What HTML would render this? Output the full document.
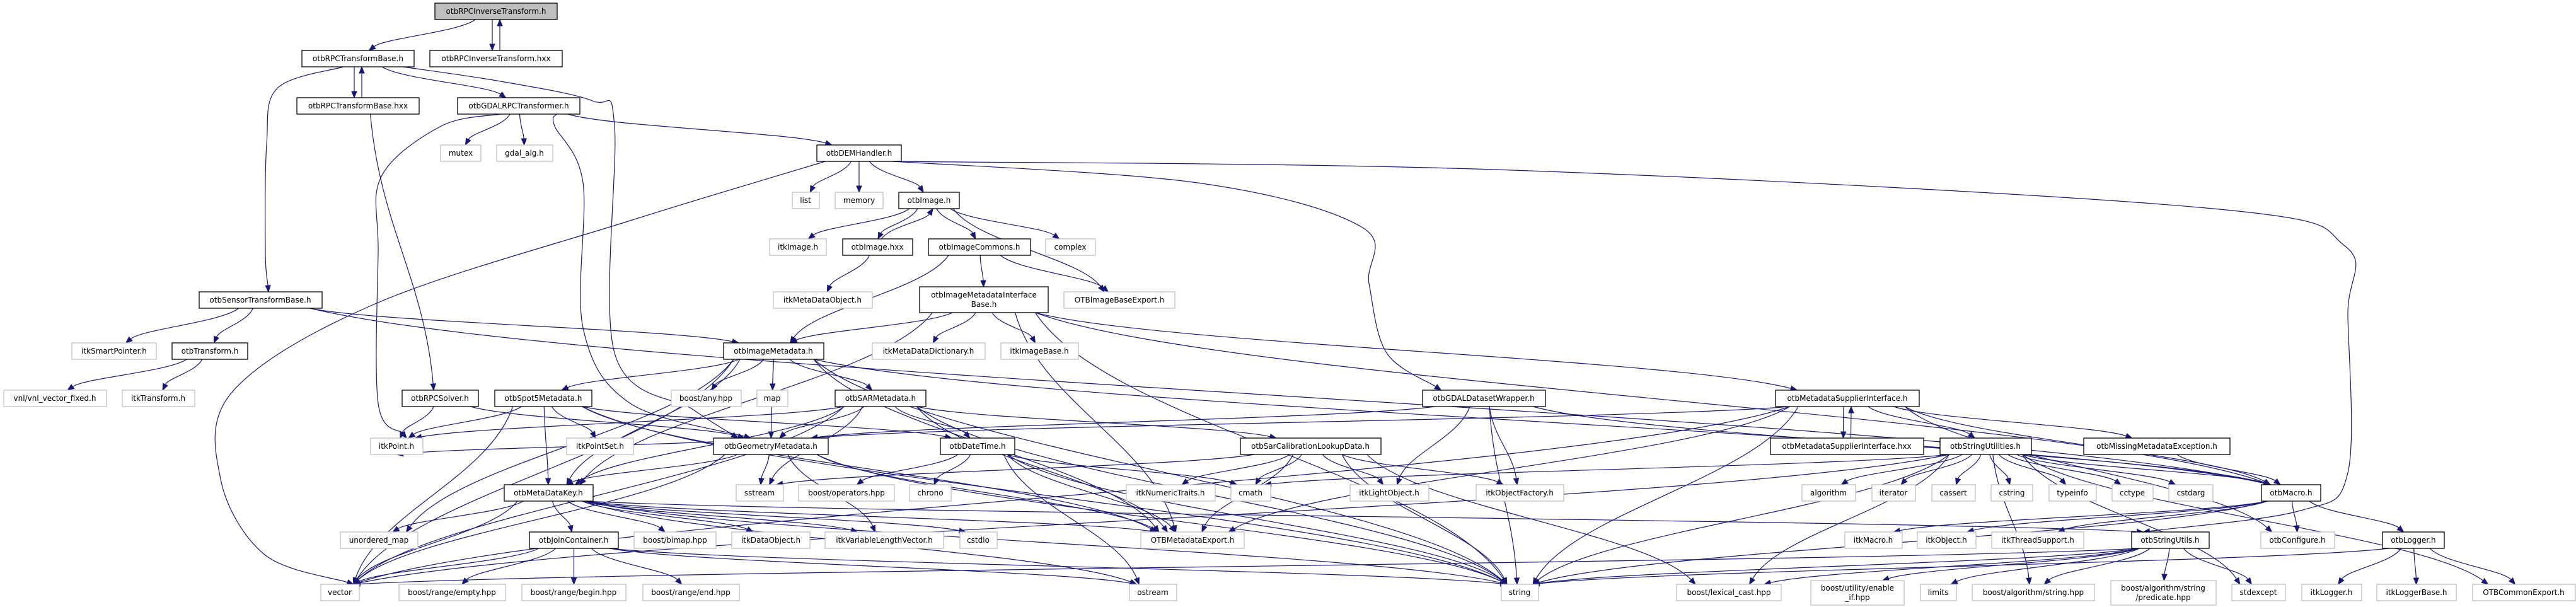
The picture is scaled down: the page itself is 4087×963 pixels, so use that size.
<!DOCTYPE html>
<html><head><meta charset="utf-8">
<style>
html,body{margin:0;padding:0;background:#fff;}
svg{display:block;}
text{font-family:"DejaVu Sans","Liberation Sans",sans-serif;font-size:12px;fill:#000;text-anchor:middle;}
.b rect{fill:#fff;stroke:#000;stroke-width:1.3;}
.g rect{fill:#fff;stroke:#bfbfbf;stroke-width:1.3;}
.r rect{fill:#bfbfbf;stroke:#000;stroke-width:1.3;}
#edges path{fill:none;stroke:#191970;stroke-width:1.2;}
#edges polygon{fill:#191970;stroke:#191970;}
</style></head>
<body>
<svg id="svgroot" width="4087" height="963" viewBox="0 0 4087 963" xmlns="http://www.w3.org/2000/svg">
<g id="edges"></g>
<g id="nodes">
<g id="A" class="r"><rect x="690" y="5" width="194" height="26"/><text x="787" y="22">otbRPCInverseTransform.h</text></g>
<g id="B" class="b"><rect x="479" y="80" width="178" height="26"/><text x="568" y="97">otbRPCTransformBase.h</text></g>
<g id="C" class="b"><rect x="682" y="80" width="210" height="26"/><text x="787" y="97">otbRPCInverseTransform.hxx</text></g>
<g id="D" class="b"><rect x="471" y="155" width="194" height="26"/><text x="568" y="172">otbRPCTransformBase.hxx</text></g>
<g id="E" class="b"><rect x="726" y="155" width="194" height="26"/><text x="823" y="172">otbGDALRPCTransformer.h</text></g>
<g id="F" class="g"><rect x="699" y="230" width="64" height="26"/><text x="731" y="247">mutex</text></g>
<g id="G" class="g"><rect x="788" y="230" width="89" height="26"/><text x="832" y="247">gdal_alg.h</text></g>
<g id="H" class="b"><rect x="1296" y="230" width="134" height="26"/><text x="1363" y="247">otbDEMHandler.h</text></g>
<g id="I" class="g"><rect x="1257" y="305" width="43" height="26"/><text x="1278" y="322">list</text></g>
<g id="J" class="g"><rect x="1325" y="305" width="76" height="26"/><text x="1363" y="322">memory</text></g>
<g id="K" class="b"><rect x="1426" y="305" width="96" height="26"/><text x="1474" y="322">otbImage.h</text></g>
<g id="L" class="g"><rect x="1221" y="379" width="90" height="26"/><text x="1266" y="396">itkImage.h</text></g>
<g id="M" class="b"><rect x="1337" y="379" width="111" height="26"/><text x="1392" y="396">otbImage.hxx</text></g>
<g id="N" class="b"><rect x="1473" y="379" width="162" height="26"/><text x="1554" y="396">otbImageCommons.h</text></g>
<g id="O" class="g"><rect x="1659" y="379" width="79" height="26"/><text x="1698" y="396">complex</text></g>
<g id="P" class="g"><rect x="1227" y="463" width="157" height="26"/><text x="1305" y="480">itkMetaDataObject.h</text></g>
<g id="Q" class="b"><rect x="1459" y="455" width="204" height="41"/><text x="1561" y="472">otbImageMetadataInterface</text><text x="1561" y="487">Base.h</text></g>
<g id="R" class="g"><rect x="1688" y="463" width="176" height="26"/><text x="1776" y="480">OTBImageBaseExport.h</text></g>
<g id="S" class="b"><rect x="316" y="463" width="195" height="26"/><text x="413" y="480">otbSensorTransformBase.h</text></g>
<g id="T" class="g"><rect x="114" y="544" width="134" height="26"/><text x="181" y="561">itkSmartPointer.h</text></g>
<g id="U" class="b"><rect x="273" y="544" width="120" height="26"/><text x="333" y="561">otbTransform.h</text></g>
<g id="V" class="b"><rect x="1148" y="544" width="159" height="26"/><text x="1227" y="561">otbImageMetadata.h</text></g>
<g id="W" class="g"><rect x="1384" y="544" width="179" height="26"/><text x="1473" y="561">itkMetaDataDictionary.h</text></g>
<g id="X" class="g"><rect x="1588" y="544" width="123" height="26"/><text x="1649" y="561">itkImageBase.h</text></g>
<g id="Y" class="g"><rect x="6" y="619" width="163" height="26"/><text x="87" y="636">vnl/vnl_vector_fixed.h</text></g>
<g id="Z" class="g"><rect x="194" y="619" width="115" height="26"/><text x="251" y="636">itkTransform.h</text></g>
<g id="a" class="b"><rect x="638" y="619" width="121" height="26"/><text x="698" y="636">otbRPCSolver.h</text></g>
<g id="b" class="b"><rect x="785" y="619" width="154" height="26"/><text x="862" y="636">otbSpot5Metadata.h</text></g>
<g id="c" class="g"><rect x="1065" y="619" width="111" height="26"/><text x="1120" y="636">boost/any.hpp</text></g>
<g id="d" class="g"><rect x="1201" y="619" width="49" height="26"/><text x="1225" y="636">map</text></g>
<g id="e" class="b"><rect x="1325" y="619" width="144" height="26"/><text x="1397" y="636">otbSARMetadata.h</text></g>
<g id="f" class="b"><rect x="2257" y="619" width="195" height="26"/><text x="2354" y="636">otbGDALDatasetWrapper.h</text></g>
<g id="g" class="b"><rect x="2817" y="619" width="228" height="26"/><text x="2931" y="636">otbMetadataSupplierInterface.h</text></g>
<g id="h" class="g"><rect x="588" y="695" width="83" height="26"/><text x="629" y="712">itkPoint.h</text></g>
<g id="i" class="g"><rect x="899" y="695" width="106" height="26"/><text x="952" y="712">itkPointSet.h</text></g>
<g id="j" class="b"><rect x="1132" y="695" width="182" height="26"/><text x="1223" y="712">otbGeometryMetadata.h</text></g>
<g id="k" class="b"><rect x="1492" y="695" width="118" height="26"/><text x="1551" y="712">otbDateTime.h</text></g>
<g id="l" class="b"><rect x="1968" y="695" width="223" height="26"/><text x="2079" y="712">otbSarCalibrationLookupData.h</text></g>
<g id="m" class="b"><rect x="2809" y="695" width="243" height="26"/><text x="2930" y="712">otbMetadataSupplierInterface.hxx</text></g>
<g id="n" class="b"><rect x="3078" y="695" width="145" height="26"/><text x="3150" y="712">otbStringUtilities.h</text></g>
<g id="o" class="b"><rect x="3306" y="695" width="232" height="26"/><text x="3422" y="712">otbMissingMetadataException.h</text></g>
<g id="p" class="b"><rect x="800" y="769" width="141" height="26"/><text x="870" y="786">otbMetaDataKey.h</text></g>
<g id="q" class="g"><rect x="1168" y="769" width="75" height="26"/><text x="1205" y="786">sstream</text></g>
<g id="r" class="g"><rect x="1267" y="769" width="152" height="26"/><text x="1343" y="786">boost/operators.hpp</text></g>
<g id="s2" class="g"><rect x="1443" y="769" width="66" height="26"/><text x="1476" y="786">chrono</text></g>
<g id="t" class="g"><rect x="1787" y="769" width="141" height="26"/><text x="1857" y="786">itkNumericTraits.h</text></g>
<g id="u" class="g"><rect x="1953" y="769" width="63" height="26"/><text x="1984" y="786">cmath</text></g>
<g id="v" class="g"><rect x="2142" y="769" width="125" height="26"/><text x="2204" y="786">itkLightObject.h</text></g>
<g id="w" class="g"><rect x="2342" y="769" width="139" height="26"/><text x="2411" y="786">itkObjectFactory.h</text></g>
<g id="x" class="g"><rect x="2859" y="769" width="85" height="26"/><text x="2901" y="786">algorithm</text></g>
<g id="y" class="g"><rect x="2970" y="769" width="69" height="26"/><text x="3004" y="786">iterator</text></g>
<g id="z" class="g"><rect x="3065" y="769" width="69" height="26"/><text x="3099" y="786">cassert</text></g>
<g id="A2" class="g"><rect x="3159" y="769" width="66" height="26"/><text x="3192" y="786">cstring</text></g>
<g id="B2" class="g"><rect x="3251" y="769" width="75" height="26"/><text x="3288" y="786">typeinfo</text></g>
<g id="C2" class="g"><rect x="3351" y="769" width="65" height="26"/><text x="3383" y="786">cctype</text></g>
<g id="D2" class="g"><rect x="3441" y="769" width="70" height="26"/><text x="3476" y="786">cstdarg</text></g>
<g id="E2" class="b"><rect x="3588" y="769" width="94" height="26"/><text x="3635" y="786">otbMacro.h</text></g>
<g id="F2" class="g"><rect x="540" y="844" width="123" height="26"/><text x="601" y="861">unordered_map</text></g>
<g id="G2" class="b"><rect x="840" y="844" width="141" height="26"/><text x="910" y="861">otbJoinContainer.h</text></g>
<g id="H2" class="g"><rect x="1006" y="844" width="130" height="26"/><text x="1071" y="861">boost/bimap.hpp</text></g>
<g id="I2" class="g"><rect x="1161" y="844" width="124" height="26"/><text x="1223" y="861">itkDataObject.h</text></g>
<g id="J2" class="g"><rect x="1309" y="844" width="188" height="26"/><text x="1403" y="861">itkVariableLengthVector.h</text></g>
<g id="K2" class="g"><rect x="1523" y="844" width="59" height="26"/><text x="1552" y="861">cstdio</text></g>
<g id="L2" class="g"><rect x="1810" y="844" width="164" height="26"/><text x="1892" y="861">OTBMetadataExport.h</text></g>
<g id="M2" class="g"><rect x="2927" y="844" width="91" height="26"/><text x="2972" y="861">itkMacro.h</text></g>
<g id="N2" class="g"><rect x="3042" y="844" width="93" height="26"/><text x="3088" y="861">itkObject.h</text></g>
<g id="O2" class="g"><rect x="3160" y="844" width="146" height="26"/><text x="3233" y="861">itkThreadSupport.h</text></g>
<g id="P2" class="b"><rect x="3382" y="844" width="123" height="26"/><text x="3443" y="861">otbStringUtils.h</text></g>
<g id="Q2" class="g"><rect x="3587" y="844" width="117" height="26"/><text x="3645" y="861">otbConfigure.h</text></g>
<g id="R2" class="b"><rect x="3780" y="844" width="98" height="26"/><text x="3829" y="861">otbLogger.h</text></g>
<g id="S2" class="g"><rect x="509" y="927" width="61" height="26"/><text x="539" y="944">vector</text></g>
<g id="T2" class="g"><rect x="633" y="927" width="169" height="26"/><text x="717" y="944">boost/range/empty.hpp</text></g>
<g id="U2" class="g"><rect x="828" y="927" width="165" height="26"/><text x="910" y="944">boost/range/begin.hpp</text></g>
<g id="V2" class="g"><rect x="1020" y="927" width="153" height="26"/><text x="1096" y="944">boost/range/end.hpp</text></g>
<g id="W2" class="g"><rect x="1792" y="927" width="75" height="26"/><text x="1829" y="944">ostream</text></g>
<g id="X2" class="g"><rect x="2382" y="927" width="59" height="26"/><text x="2411" y="944">string</text></g>
<g id="Y2" class="g"><rect x="2660" y="927" width="166" height="26"/><text x="2743" y="944">boost/lexical_cast.hpp</text></g>
<g id="Z2" class="g"><rect x="2873" y="921" width="148" height="39"/><text x="2947" y="937">boost/utility/enable</text><text x="2947" y="952">_if.hpp</text></g>
<g id="a3" class="g"><rect x="3047" y="927" width="57" height="26"/><text x="3075" y="944">limits</text></g>
<g id="b3" class="g"><rect x="3129" y="927" width="194" height="26"/><text x="3226" y="944">boost/algorithm/string.hpp</text></g>
<g id="c3" class="g"><rect x="3349" y="921" width="167" height="39"/><text x="3432" y="937">boost/algorithm/string</text><text x="3432" y="952">/predicate.hpp</text></g>
<g id="d3" class="g"><rect x="3541" y="927" width="85" height="26"/><text x="3583" y="944">stdexcept</text></g>
<g id="e3" class="g"><rect x="3652" y="927" width="95" height="26"/><text x="3699" y="944">itkLogger.h</text></g>
<g id="f3" class="g"><rect x="3771" y="927" width="126" height="26"/><text x="3834" y="944">itkLoggerBase.h</text></g>
<g id="g3" class="g"><rect x="3923" y="927" width="163" height="26"/><text x="4004" y="944">OTBCommonExport.h</text></g>
</g>
</svg>
<script>
(function(){
var E="A>B A>C C>A B>S B>D D>B B>E B>j D>a E>F E>G E>H E>h E>j H>I H>J H>K H>S2 H>f H>P2 K>L K>M M>K K>N K>O K>R M>P N>Q N>R N>V Q>V Q>W Q>X Q>L2 Q>g Q>X2 Q>E2 Q>p S>T S>U S>V S>E2 U>Y U>Z V>c V>d V>e V>j V>b V>p V>L2 V>X2 V>S2 V>F2 V>E2 e>k e>l e>j e>q e>X2 e>S2 e>h e>p e>L2 b>h b>i b>p b>S2 b>k b>L2 b>X2 a>h a>j j>q j>p j>L2 j>X2 j>S2 j>h j>J2 k>r k>s2 k>L2 k>u k>X2 k>W2 l>t l>v l>w l>L2 l>X2 l>u l>Y2 l>q p>F2 p>G2 p>H2 p>I2 p>J2 p>K2 p>L2 p>X2 p>S2 p>P2 p>W2 G2>T2 G2>U2 G2>V2 G2>S2 G2>W2 G2>X2 f>v f>w f>X2 f>j f>E2 g>m m>g g>n g>o g>E2 g>X2 g>L2 g>S2 g>j g>Q2 n>x n>y n>z n>A2 n>B2 n>C2 n>D2 n>E2 n>X2 n>S2 n>u n>d3 n>Y2 n>g3 n>b3 o>E2 E2>M2 E2>N2 E2>O2 E2>Q2 E2>R2 E2>X2 P2>X2 P2>a3 P2>b3 P2>c3 P2>d3 P2>Z2 P2>Y2 P2>S2 R2>e3 R2>f3 R2>g3 R2>X2".split(" ");
var WP={
 "B>S":[[440,140],[423,230],[421,400]],
 "B>j":[[800,130],[940,160],[975,200],[975,560],[1100,650]],
 "E>h":[[700,200],[605,280],[600,400],[600,640]],
 "E>j":[[880,200],[925,290],[925,520],[1000,640]],
 "H>S2":[[1000,350],[600,480],[370,620],[350,760],[420,880]],
 "H>f":[[1900,290],[2160,360],[2172,450],[2200,560]],
 "H>P2":[[2400,270],[3500,330],[3720,390],[3725,500],[3725,750],[3650,810]]
};
var NS="http://www.w3.org/2000/svg",G=document.getElementById("edges");
function bx(id){var r=document.getElementById(id).querySelector("rect");var x=+r.getAttribute("x"),y=+r.getAttribute("y"),w=+r.getAttribute("width"),h=+r.getAttribute("height");return{x:x,y:y,w:w,h:h,cx:x+w/2};}
function cl(v,m){return Math.max(-m,Math.min(m,v));}
var set={};E.forEach(function(e){set[e]=1;});
function arrow(x2,y2,fx,fy){
 var vx=x2-fx,vy=y2-fy,L=Math.sqrt(vx*vx+vy*vy)||1;vx/=L;vy/=L;
 var al=10,aw=4,ex=x2-vx*al,ey=y2-vy*al;
 var pg=document.createElementNS(NS,"polygon");
 pg.setAttribute("points",x2+","+y2+" "+(ex-vy*aw)+","+(ey+vx*aw)+" "+(ex+vy*aw)+","+(ey-vx*aw));
 G.appendChild(pg);return [ex,ey];
}
E.forEach(function(e){
 var p=e.split(">"),s=bx(p[0]),t=bx(p[1]);
 var back=set[p[1]+">"+p[0]]?1:0;
 var x1,y1,x2,y2,off=0;
 if(back){off=(t.y>s.y)?-6:6;}
 if(t.y>s.y){
  x1=s.cx+cl((t.cx-s.cx)*0.15,s.w*0.4)+off;y1=s.y+s.h;
  x2=t.cx+cl((s.cx-t.cx)*0.08,t.w*0.35)+off;y2=t.y;
 }else{
  x1=s.cx+off;y1=s.y;x2=t.cx+off;y2=t.y+t.h;
 }
 var path=document.createElementNS(NS,"path");
 if(WP[e]){
  var pts=[[x1,y1]].concat(WP[e]);
  var last=pts[pts.length-1];
  var en=arrow(x2,y2,last[0],last[1]);
  pts.push(en);
  var d="M"+pts[0][0]+","+pts[0][1];
  for(var i=0;i<pts.length-1;i++){
   var p0=pts[i-1]||pts[i],p1=pts[i],p2=pts[i+1],p3=pts[i+2]||p2;
   var c1=[p1[0]+(p2[0]-p0[0])/6,p1[1]+(p2[1]-p0[1])/6];
   var c2=[p2[0]-(p3[0]-p1[0])/6,p2[1]-(p3[1]-p1[1])/6];
   d+=" C"+c1[0]+","+c1[1]+" "+c2[0]+","+c2[1]+" "+p2[0]+","+p2[1];
  }
  path.setAttribute("d",d);
 }else{
  var dy=y2-y1,dx=x2-x1;
  var c1x=x1+dx*0.15,c1y=y1+dy*0.4,c2x=x2-dx*0.15,c2y=y2-dy*0.4;
  var en2=arrow(x2,y2,c2x,c2y);
  path.setAttribute("d","M"+x1+","+y1+" C"+c1x+","+c1y+" "+c2x+","+c2y+" "+en2[0]+","+en2[1]);
 }
 G.appendChild(path);
});
})();
</script>
</body></html>
